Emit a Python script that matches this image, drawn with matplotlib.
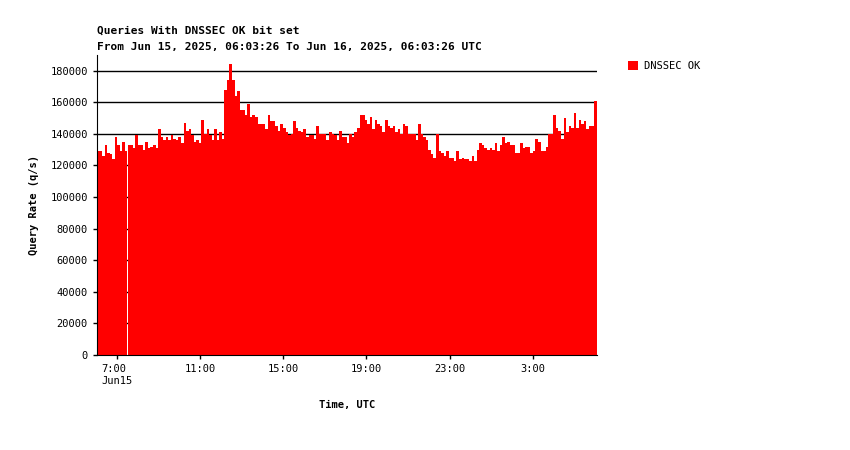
import matplotlib
matplotlib.use("Agg")
import matplotlib.pyplot as plt
import numpy as np

# query rate in thousands of q/s, left to right
rate_k = [
    129, 129, 126, 133, 128, 127, 124,
    138, 133, 129, 135, 129, 133, 133, 131, 139, 133, 133, 130, 135, 131, 132, 133, 131,
    143, 138, 136, 138, 136, 139, 137, 136, 138, 134, 147, 142, 143, 139, 135, 136, 134,
    149, 140, 143, 139, 136, 143, 136, 141, 137,
    168, 174, 184, 174, 164, 167, 155, 155, 152, 159, 151, 152, 151,
    146, 146, 146, 143, 152, 148, 148, 145, 142, 146, 144, 141, 139, 140, 148, 144,
    142, 141, 143, 138, 139, 139, 137, 145, 140, 140, 140, 136, 141, 140, 139, 136,
    142, 138, 138, 134, 140, 138, 141, 144, 152,
    152, 149, 146, 151, 143, 149, 146, 145, 141, 149, 145, 144, 145, 141, 143, 140,
    146, 145, 140, 140, 140, 136, 146, 140, 138, 136, 130, 127, 125, 140, 129, 128,
    126, 129, 125, 125, 123, 129, 124, 125, 124, 124, 123, 126, 123, 130, 134, 133,
    131, 130, 131, 130, 134, 129, 133, 138, 134, 135, 133, 133, 128, 128, 134, 131,
    132, 132, 128, 129, 137, 135, 129, 129, 132, 140, 140, 152, 144, 142, 137, 150,
    141, 145, 144, 153, 144, 149, 146, 148, 143, 145, 145, 161,
]
values = np.array(rate_k) * 1000

start_hour = 6 + 3.4 / 60
end_hour = start_hour + 24
tick_hours = [7, 11, 15, 19, 23, 27]
tick_labels = ["7:00\nJun15", "11:00", "15:00", "19:00", "23:00", "3:00"]
y_ticks = list(range(0, 180001, 20000))

plt.rcParams["font.family"] = ["DejaVu Sans Mono"]
plt.rcParams["font.size"] = 7.5

fig = plt.figure(figsize=(8.5, 4.5), dpi=100)
ax = fig.add_axes([0.114, 0.211, 0.588, 0.667])

edges = np.linspace(start_hour, end_hour, len(values) + 1)
for y in y_ticks[1:]:
    ax.axhline(y, color="black", lw=1, zorder=1)
ax.bar(edges[:-1], values, width=np.diff(edges), align="edge",
       color="#ff0000", linewidth=0, zorder=2, label="DNSSEC OK")

ax.set_xlim(start_hour, end_hour)
ax.set_ylim(0, 190000)
ax.set_yticks(y_ticks)
ax.set_yticklabels([str(v) for v in y_ticks])
ax.set_xticks(tick_hours)
ax.set_xticklabels(tick_labels, ha="center")
for lbl in ax.get_xticklabels()[:1]:
    lbl.set_multialignment("left")
ax.spines["top"].set_visible(False)
ax.spines["right"].set_visible(False)
ax.tick_params(length=3, width=1)

ax.set_ylabel("Query Rate (q/s)", fontweight="bold", labelpad=8)
ax.set_xlabel("Time, UTC", fontweight="bold", labelpad=10)
fig.text(0.114, 0.925, "Queries With DNSSEC OK bit set", fontweight="bold", fontsize=8)
fig.text(0.114, 0.888, "From Jun 15, 2025, 06:03:26 To Jun 16, 2025, 06:03:26 UTC",
         fontweight="bold", fontsize=8)

fig.legend(loc="upper left", bbox_to_anchor=(0.728, 0.885), frameon=False,
           handlelength=0.9, handleheight=0.9, handletextpad=0.6, fontsize=7.5)

fig.savefig("out.png", dpi=100)
